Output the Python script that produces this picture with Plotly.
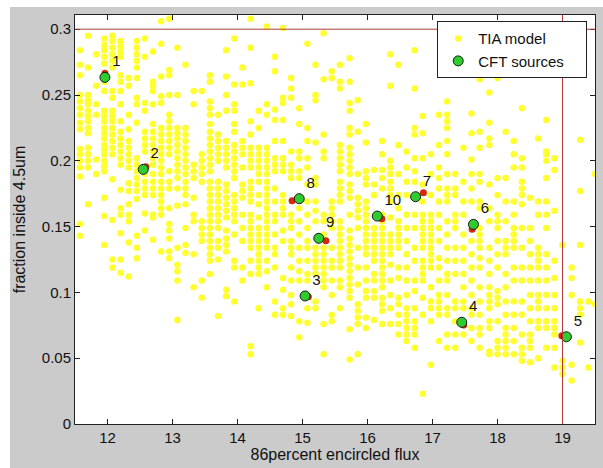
import plotly.graph_objects as go

# ---- TIA model (yellow), read column by column: x of each column, then y values in it
tia_col_x = [11.575, 11.7, 11.825, 11.95, 12.075, 12.2, 12.325, 12.45, 12.575, 12.7,
             12.825, 12.95, 13.075, 13.2, 13.325, 13.45,
             13.575, 13.7, 13.825, 13.95, 14.075, 14.2, 14.325, 14.45, 14.575, 14.7,
             14.825, 14.95, 15.075, 15.2, 15.325, 15.45,
             15.575, 15.725, 15.85, 15.975, 16.1, 16.225, 16.35, 16.475, 16.6, 16.725,
             16.85, 16.975, 17.1, 17.225, 17.35, 17.475,
             17.6, 17.725, 17.875, 18.0, 18.125, 18.25, 18.375, 18.5, 18.625, 18.75,
             18.875, 19.0, 19.14, 19.27, 19.4, 19.5]

tia_col_y = [
    [0.284, 0.273, 0.265, 0.250, 0.245, 0.240, 0.235, 0.229, 0.224, 0.209, 0.205, 0.200, 0.195, 0.188, 0.152, 0.143],
    [0.295, 0.271, 0.250, 0.246, 0.243, 0.238, 0.234, 0.230, 0.225, 0.221, 0.210, 0.205, 0.200, 0.195, 0.167],
    [0.281, 0.257, 0.243, 0.235, 0.201, 0.190],
    [0.293, 0.288, 0.284, 0.279, 0.274, 0.260, 0.253, 0.238, 0.234, 0.230, 0.225, 0.221, 0.217, 0.212, 0.209, 0.205, 0.200, 0.196, 0.192, 0.172, 0.158, 0.136],
    [0.295, 0.291, 0.286, 0.281, 0.276, 0.271, 0.253, 0.248, 0.238, 0.234, 0.230, 0.225, 0.220, 0.215, 0.210, 0.205, 0.186, 0.155, 0.125, 0.119],
    [0.291, 0.287, 0.283, 0.279, 0.265, 0.260, 0.253, 0.243, 0.230, 0.222, 0.217, 0.212, 0.207, 0.202, 0.197, 0.178, 0.164, 0.159, 0.145, 0.125, 0.115],
    [0.263, 0.257, 0.235, 0.224, 0.215, 0.210, 0.205, 0.200, 0.195, 0.183, 0.177, 0.167, 0.159, 0.154, 0.138, 0.112],
    [0.291, 0.286, 0.281, 0.276, 0.271, 0.263, 0.248, 0.243, 0.229, 0.202, 0.197, 0.192, 0.187, 0.182, 0.177, 0.171, 0.143, 0.134, 0.126],
    [0.293, 0.279, 0.244, 0.238, 0.222, 0.217, 0.212, 0.207, 0.190, 0.184, 0.179, 0.174, 0.160, 0.147],
    [0.283, 0.260, 0.257, 0.253, 0.243, 0.228, 0.222, 0.217, 0.212, 0.207, 0.202, 0.197, 0.190, 0.184, 0.179, 0.174, 0.159, 0.157, 0.140],
    [0.306, 0.289, 0.264, 0.249, 0.244, 0.225, 0.220, 0.215, 0.210, 0.205, 0.200, 0.195, 0.190, 0.184, 0.179, 0.174, 0.169, 0.164, 0.159, 0.131],
    [0.308, 0.269, 0.265, 0.250, 0.235, 0.230, 0.225, 0.220, 0.215, 0.210, 0.205, 0.192, 0.184, 0.179, 0.164, 0.152, 0.147, 0.141, 0.131, 0.126],
    [0.286, 0.250, 0.225, 0.221, 0.217, 0.212, 0.207, 0.202, 0.197, 0.192, 0.187, 0.179, 0.166, 0.134, 0.121, 0.116, 0.109, 0.079],
    [0.273, 0.225, 0.220, 0.215, 0.210, 0.205, 0.200, 0.195, 0.190, 0.184, 0.179, 0.174, 0.167, 0.149, 0.136, 0.130],
    [0.253, 0.243, 0.197, 0.192, 0.187, 0.172, 0.159, 0.154, 0.129, 0.104],
    [0.253, 0.205, 0.200, 0.195, 0.190, 0.184, 0.154, 0.149, 0.144, 0.139, 0.109, 0.096],
    [0.265, 0.260, 0.245, 0.240, 0.235, 0.228, 0.222, 0.217, 0.212, 0.207, 0.202, 0.197, 0.192, 0.184, 0.179, 0.174, 0.169, 0.164, 0.159, 0.154, 0.149, 0.144, 0.139, 0.134, 0.129, 0.124, 0.114],
    [0.235, 0.220, 0.215, 0.210, 0.205, 0.200, 0.184, 0.179, 0.174, 0.169, 0.164, 0.159, 0.154, 0.149, 0.139, 0.134, 0.125, 0.082],
    [0.284, 0.264, 0.250, 0.238, 0.215, 0.210, 0.205, 0.200, 0.195, 0.182, 0.177, 0.172, 0.167, 0.162, 0.157, 0.147, 0.141, 0.136, 0.131, 0.102, 0.097],
    [0.293, 0.258, 0.243, 0.238, 0.228, 0.222, 0.212, 0.207, 0.202, 0.197, 0.192, 0.187, 0.174, 0.169, 0.164, 0.159, 0.154, 0.144, 0.124, 0.119, 0.093],
    [0.271, 0.258, 0.215, 0.210, 0.205, 0.195, 0.182, 0.177, 0.172, 0.159, 0.149, 0.139, 0.119, 0.109],
    [0.308, 0.286, 0.259, 0.230, 0.220, 0.210, 0.205, 0.200, 0.195, 0.184, 0.179, 0.174, 0.169, 0.159, 0.154, 0.149, 0.144, 0.139, 0.134, 0.124, 0.114, 0.059, 0.053],
    [0.238, 0.225, 0.210, 0.205, 0.200, 0.195, 0.190, 0.184, 0.174, 0.167, 0.157, 0.149, 0.144, 0.139, 0.134, 0.129, 0.124, 0.119, 0.114, 0.088],
    [0.302, 0.243, 0.235, 0.210, 0.205, 0.200, 0.195, 0.190, 0.184, 0.179, 0.174, 0.169, 0.164, 0.159, 0.154, 0.149, 0.144, 0.139, 0.134, 0.124, 0.116, 0.104],
    [0.279, 0.268, 0.239, 0.231, 0.215, 0.202, 0.197, 0.192, 0.179, 0.169, 0.159, 0.154, 0.144, 0.134, 0.129, 0.119, 0.093, 0.083],
    [0.301, 0.248, 0.244, 0.231, 0.215, 0.202, 0.197, 0.192, 0.174, 0.169, 0.164, 0.159, 0.147, 0.139, 0.111, 0.102, 0.088, 0.083],
    [0.263, 0.255, 0.248, 0.207, 0.197, 0.192, 0.187, 0.159, 0.154, 0.149, 0.139, 0.134, 0.129, 0.119, 0.109, 0.098, 0.091, 0.082],
    [0.240, 0.228, 0.207, 0.202, 0.192, 0.187, 0.164, 0.154, 0.144, 0.134, 0.124, 0.116, 0.109, 0.078, 0.066],
    [0.289, 0.225, 0.215, 0.202, 0.195, 0.182, 0.169, 0.159, 0.149, 0.139, 0.134, 0.124, 0.114, 0.109, 0.088, 0.077],
    [0.273, 0.250, 0.246, 0.214, 0.187, 0.182, 0.169, 0.162, 0.154, 0.134, 0.129, 0.124, 0.119, 0.114, 0.093, 0.088],
    [0.297, 0.262, 0.220, 0.207, 0.202, 0.159, 0.154, 0.144, 0.134, 0.129, 0.124, 0.119, 0.114, 0.109, 0.104, 0.076, 0.053],
    [0.268, 0.263, 0.169, 0.164, 0.159, 0.154, 0.149, 0.134, 0.124, 0.119, 0.109, 0.098, 0.083, 0.078],
    [0.273, 0.260, 0.255, 0.212, 0.207, 0.202, 0.197, 0.192, 0.184, 0.179, 0.174, 0.169, 0.154, 0.149, 0.144, 0.139, 0.134, 0.129, 0.124, 0.119, 0.109, 0.104, 0.088],
    [0.278, 0.260, 0.244, 0.238, 0.225, 0.220, 0.210, 0.205, 0.200, 0.195, 0.190, 0.182, 0.177, 0.172, 0.159, 0.147, 0.141, 0.136, 0.131, 0.126, 0.121, 0.116, 0.111, 0.106, 0.101, 0.096, 0.072, 0.049],
    [0.246, 0.222, 0.190, 0.172, 0.167, 0.162, 0.157, 0.149, 0.134, 0.119, 0.106, 0.091, 0.086, 0.081, 0.076, 0.053],
    [0.228, 0.214, 0.192, 0.187, 0.182, 0.169, 0.164, 0.159, 0.154, 0.149, 0.144, 0.139, 0.134, 0.129, 0.119, 0.109, 0.101, 0.096, 0.081, 0.073],
    [0.193, 0.182, 0.174, 0.149, 0.144, 0.139, 0.134, 0.129, 0.124, 0.114, 0.109, 0.101, 0.096, 0.079],
    [0.215, 0.205, 0.193, 0.187, 0.179, 0.159, 0.154, 0.149, 0.144, 0.139, 0.134, 0.129, 0.124, 0.119, 0.114, 0.109, 0.104, 0.096, 0.091, 0.086, 0.076],
    [0.281, 0.257, 0.200, 0.195, 0.190, 0.184, 0.179, 0.174, 0.169, 0.157, 0.144, 0.139, 0.134, 0.129, 0.121, 0.109, 0.098, 0.088, 0.076],
    [0.273, 0.212, 0.190, 0.174, 0.164, 0.154, 0.149, 0.144, 0.139, 0.134, 0.119, 0.111, 0.096, 0.091, 0.083, 0.076, 0.068],
    [0.207, 0.195, 0.184, 0.174, 0.159, 0.149, 0.139, 0.129, 0.119, 0.109, 0.098, 0.088, 0.083, 0.078, 0.073, 0.068, 0.063],
    [0.284, 0.255, 0.225, 0.220, 0.202, 0.192, 0.184, 0.159, 0.149, 0.134, 0.124, 0.109, 0.101, 0.088, 0.078, 0.073, 0.068, 0.058],
    [0.234, 0.221, 0.202, 0.182, 0.169, 0.159, 0.154, 0.149, 0.144, 0.139, 0.134, 0.124, 0.119, 0.114, 0.109, 0.096, 0.083, 0.023],
    [0.205, 0.190, 0.174, 0.159, 0.154, 0.149, 0.144, 0.139, 0.134, 0.129, 0.124, 0.119, 0.104, 0.093, 0.088, 0.078, 0.045],
    [0.235, 0.212, 0.195, 0.187, 0.179, 0.169, 0.159, 0.149, 0.139, 0.126, 0.119, 0.109, 0.098, 0.093, 0.088, 0.083, 0.063],
    [0.245, 0.235, 0.230, 0.225, 0.215, 0.205, 0.190, 0.179, 0.174, 0.169, 0.154, 0.144, 0.134, 0.124, 0.114, 0.109, 0.098, 0.088, 0.083, 0.068, 0.058],
    [0.190, 0.179, 0.174, 0.159, 0.154, 0.149, 0.134, 0.124, 0.114, 0.093, 0.088, 0.078, 0.068, 0.058],
    [0.210, 0.184, 0.169, 0.159, 0.144, 0.134, 0.124, 0.114, 0.104, 0.093, 0.088, 0.068],
    [0.236, 0.221, 0.201, 0.190, 0.179, 0.169, 0.139, 0.129, 0.119, 0.109, 0.098, 0.088, 0.083, 0.073, 0.063],
    [0.262, 0.222, 0.210, 0.190, 0.184, 0.169, 0.164, 0.149, 0.144, 0.139, 0.134, 0.126, 0.119, 0.104, 0.093, 0.083, 0.073, 0.068, 0.058],
    [0.252, 0.229, 0.217, 0.212, 0.182, 0.164, 0.154, 0.134, 0.124, 0.114, 0.104, 0.098, 0.093, 0.088, 0.078, 0.073, 0.055, 0.053],
    [0.263, 0.187, 0.174, 0.159, 0.154, 0.149, 0.139, 0.129, 0.119, 0.101, 0.096, 0.091, 0.078, 0.063, 0.058, 0.053],
    [0.222, 0.187, 0.169, 0.154, 0.139, 0.134, 0.129, 0.114, 0.104, 0.093, 0.083, 0.073, 0.068, 0.063, 0.058, 0.053],
    [0.215, 0.205, 0.195, 0.169, 0.159, 0.149, 0.144, 0.139, 0.134, 0.119, 0.109, 0.093, 0.083, 0.073, 0.063, 0.053],
    [0.240, 0.202, 0.195, 0.184, 0.179, 0.174, 0.167, 0.149, 0.134, 0.119, 0.109, 0.093, 0.083, 0.068, 0.058, 0.053, 0.048],
    [0.172, 0.149, 0.139, 0.129, 0.119, 0.109, 0.098, 0.088, 0.078, 0.068, 0.063, 0.058, 0.047],
    [0.217, 0.169, 0.159, 0.134, 0.129, 0.124, 0.119, 0.109, 0.098, 0.093, 0.088, 0.078, 0.073, 0.050],
    [0.231, 0.207, 0.205, 0.200, 0.187, 0.169, 0.159, 0.149, 0.129, 0.119, 0.109, 0.098, 0.088, 0.078, 0.073, 0.058],
    [0.202, 0.193, 0.162, 0.124, 0.111, 0.098, 0.088, 0.078, 0.073, 0.068, 0.058, 0.043],
    [0.136, 0.048, 0.043, 0.038],
    [0.119, 0.111, 0.098, 0.045, 0.033],
    [0.216, 0.177, 0.136, 0.093, 0.088, 0.083, 0.062],
    [0.093, 0.043],
    [0.190, 0.091],
]

# ---- CFT sources (green) and their model positions (red)
cft_id = ["1", "2", "3", "4", "5", "6", "7", "8", "9", "10"]
cft_x = [11.96, 12.55, 15.04, 17.45, 19.06, 17.63, 16.74, 14.95, 15.25, 16.15]
cft_y = [0.2634, 0.1935, 0.0973, 0.0773, 0.0663, 0.1517, 0.1727, 0.1712, 0.1411, 0.1580]
red_x = [11.96, 12.59, 15.09, 17.48, 18.99, 17.61, 16.86, 14.84, 15.36, 16.22]
red_y = [0.2665, 0.1955, 0.0967, 0.0752, 0.0671, 0.1480, 0.1758, 0.1697, 0.1393, 0.1560]

# limits drawn as red lines
flux_limit = 19.0
frac_limit = 0.3

y_ticks = [0, 0.05, 0.1, 0.15, 0.2, 0.25, 0.3]
x_ticks = [12, 13, 14, 15, 16, 17, 18, 19]

tia_x = [cx for cx, ys in zip(tia_col_x, tia_col_y) for _ in ys]
tia_y = [y for ys in tia_col_y for y in ys]

FONT = "Liberation Sans"
NBSP = "\u00a0"
fig = go.Figure()
fig.add_trace(go.Scatter(x=tia_x, y=tia_y, mode="markers", name="TIA model",
                         marker=dict(color="#ffff2e", size=6.5, line=dict(width=0))))
fig.add_trace(go.Scatter(x=red_x, y=red_y, mode="markers", showlegend=False,
                         marker=dict(color="#d42a0c", size=7, line=dict(width=0))))
fig.add_trace(go.Scatter(x=cft_x, y=cft_y, mode="markers+text",
                         name="CFT sources" + NBSP * 4,
                         text=cft_id, textposition="top right",
                         textfont=dict(family=FONT, size=15, color="#111"),
                         marker=dict(color="#2fcc2f", size=10,
                                     line=dict(color="#1a1a1a", width=1))))

fig.add_shape(type="line", xref="paper", x0=0, x1=1, yref="y", y0=frac_limit, y1=frac_limit,
              line=dict(color="#b03a3a", width=1))
fig.add_shape(type="line", xref="x", x0=flux_limit, x1=flux_limit, yref="paper", y0=0, y1=1,
              line=dict(color="#b03a3a", width=1))
# white border of the figure window (top and left strips)
fig.add_shape(type="rect", xref="paper", yref="paper", x0=-0.2, x1=1.1, y0=1.0196, y1=1.1,
              fillcolor="white", line=dict(width=0), layer="below")
fig.add_shape(type="rect", xref="paper", yref="paper", x0=-0.2, x1=-0.125, y0=-0.2, y1=1.1,
              fillcolor="white", line=dict(width=0), layer="below")

axis_common = dict(showline=True, linecolor="#222", linewidth=1, mirror="ticks",
                   ticks="inside", ticklen=5, tickcolor="#222", showgrid=False,
                   zeroline=False, tickfont=dict(family=FONT, size=15, color="#111"))
fig.update_xaxes(range=[11.5, 19.5], tickvals=x_ticks,
                 title=dict(text="86percent encircled flux", standoff=2,
                            font=dict(family=FONT, size=16, color="#111")),
                 **axis_common)
fig.update_yaxes(range=[0, 0.3108], tickvals=y_ticks,
                 title=dict(text="fraction inside 4.5um", standoff=12,
                            font=dict(family=FONT, size=16, color="#111")),
                 **axis_common)

fig.update_layout(
    width=603, height=468,
    margin=dict(l=75, r=8, t=15, b=44),
    paper_bgcolor="#cbcbcb", plot_bgcolor="white",
    showlegend=True,
    legend=dict(x=0.985, y=0.985, xanchor="right", yanchor="top",
                bgcolor="white", bordercolor="#222", borderwidth=1,
                font=dict(family=FONT, size=15, color="#111"),
                itemwidth=30, tracegroupgap=0),
)

fig.write_html("out.html")
